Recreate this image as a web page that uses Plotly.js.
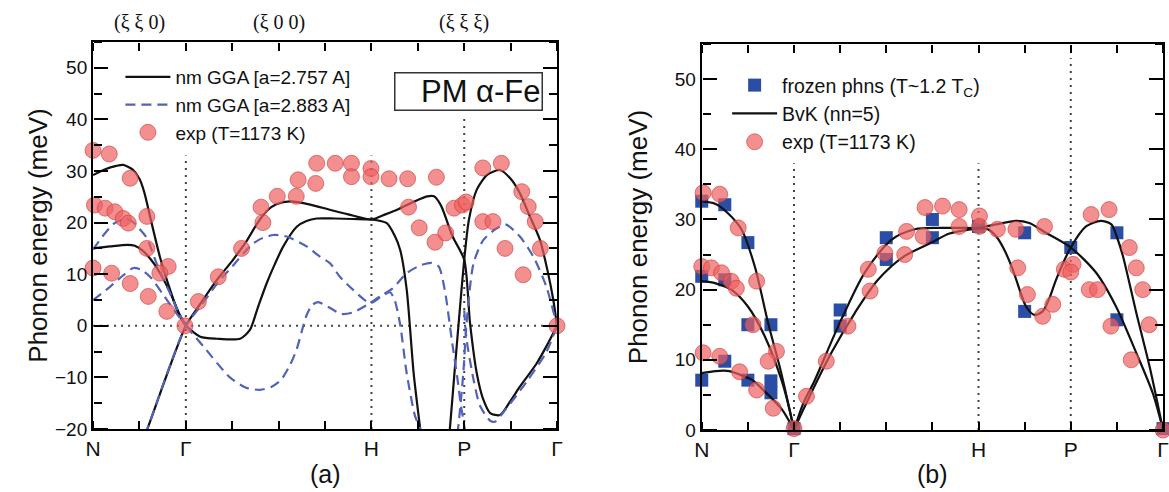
<!DOCTYPE html>
<html><head><meta charset="utf-8">
<script src="https://cdn.plot.ly/plotly-3.0.1.min.js"></script>
<style>html,body{margin:0;padding:0;background:#fff}#plot{width:1169px;height:492px}</style>
</head><body><div id="plot"></div>
<script>
// ---- path / tick data ----
const kTicks = [0,1,2,3,4,5,6,7,8,9,10];
const kLabels = ['N','','Γ','','','','H','','P','','Γ'];
const symX = [2, 6, 8];              // Γ, H, P dotted guides
const dotTopA = [33, 33, 41];
const dotTopB = [38, 38, 53];

// ---- panel (a): nm GGA a=2.757 A (solid) ----
const ggaA1_x = [0,0.25,0.5,0.65,0.85,1.0,1.1,1.26,1.44,1.66,1.84,2];
const ggaA1_y = [29.2,30.3,31.0,31.2,30.3,28.5,26,20,13.4,7.0,2.4,0];
const ggaA2_x = [0,0.37,0.75,0.9,1.08,1.25,1.37,1.66,1.85,2];
const ggaA2_y = [15.0,15.4,15.7,15.5,14.5,12.8,11.3,6.5,2.5,0];
const ggaA3_x = [1.0,1.17,2,2.3,2.67,3.0,3.3,3.55,3.75,3.96,4.25,4.68,5.1,5.5,6.0,6.3,6.6,6.9,7.2,7.35,7.5,7.75,8.0,8.125,8.27,8.4,8.56,8.77,9.0,9.2,9.56,9.8,10];
const ggaA3_y = [-24,-20,0,4.1,8.9,12.6,16.3,20.0,22.3,23.6,24.1,23.5,22.5,21.6,20.6,21.6,22.7,24.0,25.1,25.1,23.3,17.3,12.8,0.5,-9.2,-14,-16.9,-17.3,-14.5,-11.8,-7.3,-3.5,0];
const ggaA4_x = [2,2.31,2.67,3.17,3.38,3.55,3.74,3.92,4.10,4.39,4.6,4.82,5.2,5.6,6.0,6.33,6.5,6.62,6.76,6.91,7.05,7.12];
const ggaA4_y = [0,-2.1,-2.5,-2.5,-0.8,3.5,8.2,12,15.4,19.2,20.3,20.8,20.8,20.7,20.6,19.9,17.5,14.7,7.0,-9.2,-19.9,-25];
const ggaA5_x = [7.64,7.69,7.8,7.91,8.0,8.1,8.27,8.5,8.77,9.0,9.2,9.4,9.63,9.8,9.92,10];
const ggaA5_y = [-25,-20,-8,3.7,12.8,20.5,26.4,29.3,30.2,28.5,25.7,21.5,16.7,10.5,5,0];

// ---- panel (a): nm GGA a=2.883 A (dashed) ----
const ggaB1_x = [0,0.2,0.45,0.7,0.85,1.0,1.16,1.37,1.66,1.85,2];
const ggaB1_y = [14.8,17.3,19.8,20.8,20.2,18.8,17.0,12.1,6.3,2.5,0];
const ggaB2_x = [0,0.37,0.65,0.87,1.05,1.25,1.5,1.75,2];
const ggaB2_y = [5.0,7.6,9.8,11.2,10.8,9.3,6.2,3.0,0];
const ggaB3_x = [1.0,1.19,2,2.31,2.7,3.0,3.38,3.6,3.89,4.17,4.6,4.89,5.11,5.32,5.6,5.97,6.2,6.4,6.5,6.62,6.76,6.94,7.05,7.12];
const ggaB3_y = [-24,-19.5,0,3.7,8.5,11.5,15.4,16.8,17.6,17.3,15.4,13.4,12.1,9.5,7.0,4.4,5.6,6.5,5.0,0.2,-9.2,-17.5,-19.9,-24];
const ggaB4_x = [2,2.38,2.95,3.3,3.6,3.85,4.05,4.25,4.39,4.5,4.6,4.72,4.85,5.1,5.35,5.6,5.97,6.2,6.45,6.76,7.05,7.3,7.45,7.58,7.73,7.85,7.93,8.0,8.05];
const ggaB4_y = [0,-4.0,-10.0,-12.0,-12.4,-11.8,-10.5,-7.5,-4.5,-1.0,2.0,4.0,4.6,3.5,2.3,2.6,4.4,5.8,7.2,10.2,11.7,12.2,11.5,7.0,-2.6,-10,-15.5,-19.4,-24];
const ggaB5_x = [7.8,7.87,7.98,8.05,8.2,8.41,8.7,8.9,9.2,9.49,9.77,10];
const ggaB5_y = [-24,-19.7,-9.2,0.5,12.1,16.6,18.9,19.6,17.3,13.4,7.6,0];
const ggaB6_x = [8.0,8.05,8.2,8.34,8.56,8.66,8.9,9.34,9.77,10];
const ggaB6_y = [3,-2.6,-10.4,-15.5,-18.4,-18.6,-16.1,-10.9,-5.1,0];

// ---- panel (a): experiment T=1173 K ----
const expA_x = [0.00,0.35,0.80,0.03,0.26,0.47,0.65,0.76,1.16,1.16,1.62,1.44,0.00,0.40,0.80,1.19,1.59,1.98,
  2.27,2.70,3.20,3.62,3.66,3.97,4.38,4.42,4.80,4.82,5.22,5.57,5.57,5.99,5.99,6.38,6.78,7.40,
  6.80,7.03,7.37,7.60,7.78,7.96,8.04,8.40,8.80,8.40,8.62,8.88,9.24,9.38,9.53,9.64,9.27,10.0];
const expA_y = [34.0,33.3,28.6,23.4,22.8,22.1,20.8,19.9,21.2,15.0,11.5,10.2,11.2,10.2,8.2,5.7,2.8,0.0,
  4.7,9.5,15.0,23.0,20.0,25.1,25.1,28.3,27.6,31.5,31.5,31.5,28.9,30.5,28.9,28.5,28.5,28.8,
  23.0,19.0,16.2,18.0,22.8,23.4,24.0,30.6,31.5,20.2,20.2,15.0,26.0,23.1,20.2,15.0,9.9,0.0];

// ---- panel (b): frozen phonons ----
const frz_x = [0,0.5,1.0,0,0.5,1.0,1.5,0.5,0,1.0,1.5,1.5,2.0,3.0,3.0,4.0,4.0,5.0,5.0,6.0,7.0,7.0,8.0,9.0,9.0,10.0];
const frz_y = [32.6,32.1,26.7,21.9,21.4,15.0,15.0,9.8,7.1,7.1,7.0,5.3,0.2,17.1,14.8,27.4,24.3,30.0,27.4,29.0,28.1,16.9,26.0,28.1,15.7,0.2];

// ---- panel (b): BvK (nn=5) ----
const bvk1_x = [0,0.3,0.55,0.86,1.15,1.44,1.69,1.85,2];
const bvk1_y = [32.6,32.2,31.0,28.6,23.3,15.2,9.0,4.5,0];
const bvk2_x = [0,0.3,0.64,1.0,1.37,1.73,1.9,2];
const bvk2_y = [21.2,20.9,20.0,17.6,13.3,7.1,3.0,0];
const bvk3_x = [0,0.3,0.6,0.86,1.1,1.35,1.73,2];
const bvk3_y = [8.1,8.4,8.4,7.8,7.1,5.6,3.0,0];
const bvk4_x = [2,2.2,2.45,2.96,3.53,4.11,4.62,5.13,5.6,6.0,6.38,6.81,7.1,7.46,8.0,8.55,8.98,9.42,9.78,10];
const bvk4_y = [0,3.8,7.1,14.8,22.4,27.1,28.6,28.8,28.8,28.8,29.3,29.8,29.5,28.1,26.0,22.4,17.6,11,5.2,0];
const bvk5_x = [2,2.23,2.81,3.32,3.82,4.4,4.98,5.37,6.0,6.2,6.38,6.55,6.74,6.9,7.03,7.21,7.39,7.55,7.68,8.0,8.33,8.65,8.88,9.0,9.13,9.42,9.71,10];
const bvk5_y = [0,3.3,11,16.7,21.4,24.8,26.7,28.0,28.7,28.6,27.6,25.8,22.9,19.8,17.6,16.4,16.9,19.0,21.4,26.0,29.0,29.8,29.3,27.5,24.8,16.7,9.0,0];

// ---- panel (b): experiment T=1173 K ----
const expB_x = [0.03,0.39,0.79,1.19,0.0,0.21,0.43,0.64,0.75,1.11,1.62,1.44,0.03,0.39,0.82,1.19,1.55,2.0,
  2.27,2.70,3.17,3.61,3.65,3.97,4.40,4.44,4.80,4.84,5.22,5.58,5.58,6.02,6.02,6.41,6.81,7.43,8.44,8.83,
  6.85,7.06,7.39,7.61,7.86,8.05,8.0,8.40,8.58,8.87,9.27,9.42,9.56,9.70,9.31,10.0];
const expB_y = [33.8,33.6,28.8,21.2,23.3,23.1,22.4,21.2,20.2,15.0,11.2,9.8,11.0,10.5,8.3,5.7,3.1,0.2,
  4.8,9.8,14.8,22.9,19.8,25.2,25.0,28.3,27.6,31.7,31.9,31.4,29.0,30.5,29.0,28.6,28.6,29.0,30.7,31.4,
  23.1,19.3,16.2,17.9,22.9,23.6,22.5,20.0,20.0,14.8,26.0,23.1,20.0,15.0,10.0,0.0];

// ---- helpers ----
function join(list){ const X=[],Y=[]; list.forEach((b,i)=>{ if(i){X.push(null);Y.push(null);} X.push(...b[0]); Y.push(...b[1]); }); return [X,Y]; }
function guides(tops, bottom){ const X=[],Y=[]; symX.forEach((x,i)=>{ if(i){X.push(null);Y.push(null);} X.push(x,x); Y.push(bottom,tops[i]); }); return [X,Y]; }

const [sA_x,sA_y] = join([[ggaA1_x,ggaA1_y],[ggaA2_x,ggaA2_y],[ggaA3_x,ggaA3_y],[ggaA4_x,ggaA4_y],[ggaA5_x,ggaA5_y]]);
const [dA_x,dA_y] = join([[ggaB1_x,ggaB1_y],[ggaB2_x,ggaB2_y],[ggaB3_x,ggaB3_y],[ggaB4_x,ggaB4_y],[ggaB5_x,ggaB5_y],[ggaB6_x,ggaB6_y]]);
const [bv_x,bv_y] = join([[bvk1_x,bvk1_y],[bvk2_x,bvk2_y],[bvk3_x,bvk3_y],[bvk4_x,bvk4_y],[bvk5_x,bvk5_y]]);
const [gA_x,gA_y] = guides(dotTopA, -20);
const [gB_x,gB_y] = guides(dotTopB, 0);

const FONT = 'Liberation Sans, Arial, Helvetica, sans-serif';
const dotLine = {color:'#444', width:2, dash:'2px,5px'};
const redMarker = {symbol:'circle', size:16, color:'rgba(238,96,96,0.7)', line:{color:'rgba(205,55,55,0.6)', width:1}};

// panel geometry (paper fractions)
const domXA = [0.0796,0.4765], domYA = [0.128,0.9146];
const domXB = [0.6003,0.9949], domYB = [0.126,0.9106];
const rangeYA = [-20,55], rangeYB = [0,55];

const traces = [
  {x:gA_x, y:gA_y, xaxis:'x', yaxis:'y', mode:'lines', line:dotLine, showlegend:false, hoverinfo:'skip'},
  {x:[kTicks[0], kTicks[kTicks.length-1]], y:[0,0], xaxis:'x', yaxis:'y', mode:'lines', line:dotLine, showlegend:false, hoverinfo:'skip'},
  {x:gB_x, y:gB_y, xaxis:'x2', yaxis:'y2', mode:'lines', line:dotLine, showlegend:false, hoverinfo:'skip'},
  {x:sA_x, y:sA_y, xaxis:'x', yaxis:'y', mode:'lines', name:'nm GGA [a=2.757 A]', line:{color:'#111', width:2.2, shape:'spline', smoothing:0.7}, legend:'legend'},
  {x:dA_x, y:dA_y, xaxis:'x', yaxis:'y', mode:'lines', name:'nm GGA [a=2.883 A]', line:{color:'#5163b8', width:2.2, dash:'10px,6px', shape:'spline', smoothing:0.7}, legend:'legend'},
  {x:expA_x, y:expA_y, xaxis:'x', yaxis:'y', mode:'markers', name:'exp (T=1173 K)', marker:redMarker, legend:'legend', cliponaxis:false},
  {x:frz_x, y:frz_y, xaxis:'x2', yaxis:'y2', mode:'markers', name:'frozen phns (T~1.2 T<sub>C</sub>)', marker:{symbol:'square', size:13, color:'#2a4ea6'}, legend:'legend2', cliponaxis:false},
  {x:bv_x, y:bv_y, xaxis:'x2', yaxis:'y2', mode:'lines', name:'BvK (nn=5)', line:{color:'#111', width:2.2, shape:'spline', smoothing:0.8}, legend:'legend2'},
  {x:expB_x, y:expB_y, xaxis:'x2', yaxis:'y2', mode:'markers', name:'exp (T=1173 K)', marker:redMarker, legend:'legend2', cliponaxis:false},
  // empty carriers for the inward-tick overlay axes
  {x:[], y:[], xaxis:'x3', yaxis:'y3', mode:'markers', showlegend:false, hoverinfo:'skip'},
  {x:[], y:[], xaxis:'x4', yaxis:'y4', mode:'markers', showlegend:false, hoverinfo:'skip'},
  {x:[], y:[], xaxis:'x5', yaxis:'y5', mode:'markers', showlegend:false, hoverinfo:'skip'},
  {x:[], y:[], xaxis:'x6', yaxis:'y6', mode:'markers', showlegend:false, hoverinfo:'skip'}
];

function xMain(domain, anchor){
  return {domain:domain, anchor:anchor, range:[0,10], tickmode:'array', tickvals:kTicks, ticktext:kLabels,
    ticks:'', showline:true, linewidth:2, linecolor:'#000', mirror:true, showgrid:false, zeroline:false,
    tickfont:{size:21, family:FONT, color:'#111'}};
}
function yMain(domain, anchor, range, standoff){
  return {domain:domain, anchor:anchor, range:range, dtick:10, tick0:0, ticks:'',
    showline:true, linewidth:2, linecolor:'#000', mirror:true, showgrid:false, zeroline:false,
    tickfont:{size:19, family:FONT, color:'#111'},
    title:{text:'Phonon energy (meV)', font:{size:26, family:FONT, color:'#111'}, standoff:standoff}};
}
// tick-only axes placed on a panel edge, facing inwards
function xTicks(over, side, pos){
  return {overlaying:over, side:side, anchor:'free', position:pos, range:[0,10], tickmode:'array', tickvals:kTicks,
    ticks:'outside', ticklen:8, tickwidth:2, tickcolor:'#000', showticklabels:false, showline:false, showgrid:false, zeroline:false};
}
function yTicks(over, side, pos, range){
  return {overlaying:over, side:side, anchor:'free', position:pos, range:range, dtick:10, tick0:0,
    ticks:'outside', ticklen:14, tickwidth:2, tickcolor:'#000', showticklabels:false, showline:false, showgrid:false, zeroline:false,
    minor:{dtick:5, ticks:'outside', ticklen:8, tickwidth:2, tickcolor:'#000', showgrid:false}};
}

const layout = {
  width:1169, height:492, margin:{l:0,r:0,t:0,b:0}, paper_bgcolor:'#fff', plot_bgcolor:'rgba(0,0,0,0)',
  font:{family:FONT, color:'#111'},
  xaxis: xMain(domXA,'y'),
  yaxis: yMain(domYA,'x',rangeYA, 0),
  xaxis2: xMain(domXB,'y2'),
  yaxis2: yMain(domYB,'x2',rangeYB, 20),
  xaxis3: xTicks('x','top',domYA[0]),
  yaxis3: yTicks('y','right',domXA[0],rangeYA),
  xaxis4: xTicks('x','bottom',domYA[1]),
  yaxis4: yTicks('y','left',domXA[1],rangeYA),
  xaxis5: xTicks('x2','top',domYB[0]),
  yaxis5: yTicks('y2','right',domXB[0],rangeYB),
  xaxis6: xTicks('x2','bottom',domYB[1]),
  yaxis6: yTicks('y2','left',domXB[1],rangeYB),
  legend:{x:0.103, xanchor:'left', y:0.882, yanchor:'top', bgcolor:'rgba(0,0,0,0)', font:{size:19, family:FONT}, itemwidth:45, traceorder:'normal'},
  legend2:{x:0.622, xanchor:'left', y:0.866, yanchor:'top', bgcolor:'rgba(0,0,0,0)', font:{size:19.5, family:FONT}, itemwidth:45, traceorder:'normal'},
  annotations:[
    {xref:'x', yref:'paper', x:1, y:0.955, yanchor:'middle', text:'(ξ ξ 0)', showarrow:false, font:{size:20, family:'Liberation Serif, Times New Roman, serif'}},
    {xref:'x', yref:'paper', x:4, y:0.955, yanchor:'middle', text:'(ξ 0 0)', showarrow:false, font:{size:20, family:'Liberation Serif, Times New Roman, serif'}},
    {xref:'x', yref:'paper', x:8, y:0.955, yanchor:'middle', text:'(ξ ξ ξ)', showarrow:false, font:{size:20, family:'Liberation Serif, Times New Roman, serif'}},
    {xref:'x', yref:'y', x:8.1, y:45.5, text:'PM α-Fe', showarrow:false, font:{size:31, family:FONT}, bordercolor:'#333', borderwidth:1.5, width:144, height:34, align:'right', borderpad:1},
    {xref:'x', yref:'paper', x:5, y:0.037, yanchor:'middle', text:'(a)', showarrow:false, font:{size:25, family:FONT}},
    {xref:'x2', yref:'paper', x:5, y:0.037, yanchor:'middle', text:'(b)', showarrow:false, font:{size:25, family:FONT}}
  ]
};

Plotly.newPlot('plot', traces, layout, {staticPlot:true, displayModeBar:false});
</script></body></html>
